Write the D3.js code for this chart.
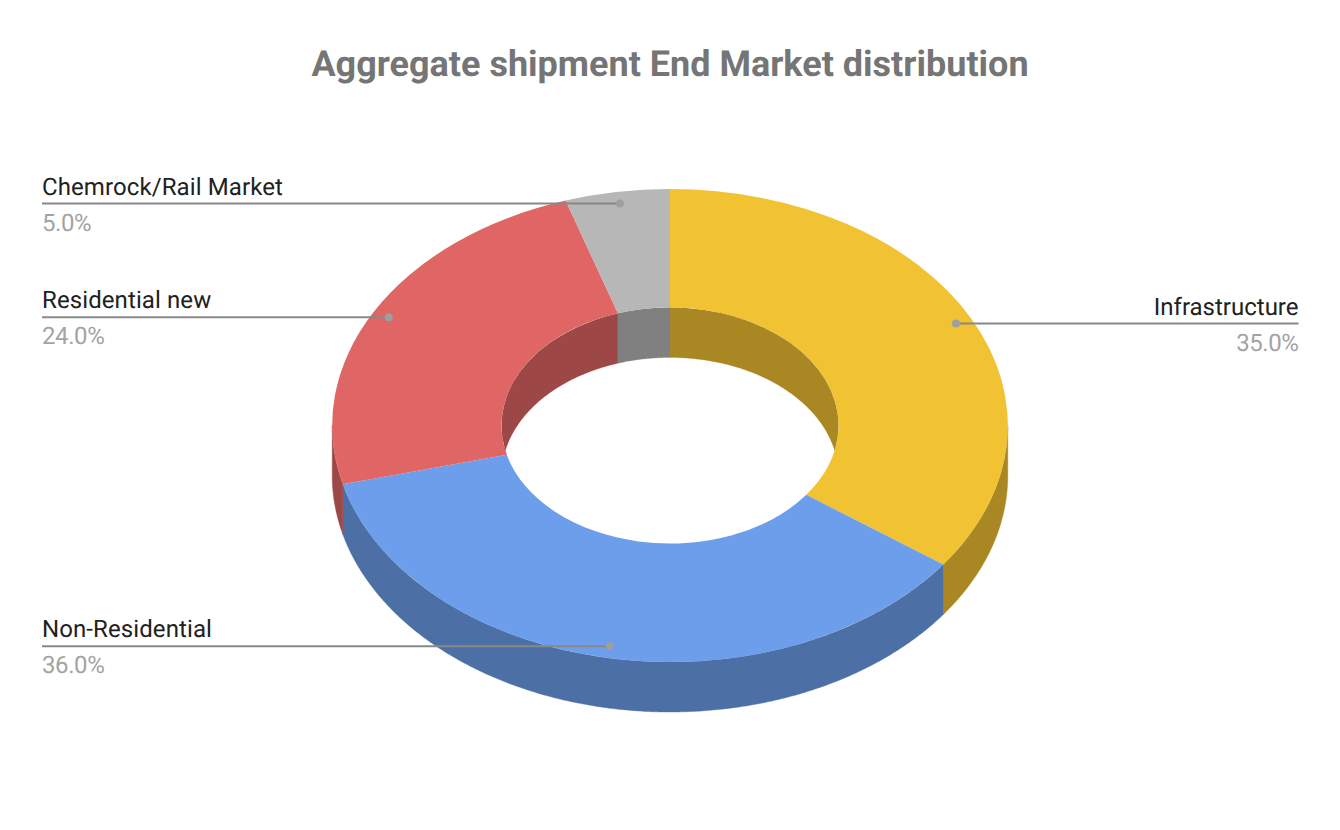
<!DOCTYPE html>
<html>
<head>
<meta charset="utf-8">
<script src="https://cdn.jsdelivr.net/npm/d3@7/dist/d3.min.js"></script>
<style>
html,body{margin:0;padding:0;background:#fff}
svg{display:block}
text{font-family:Roboto,sans-serif;text-rendering:geometricPrecision}
</style>
</head>
<body>
<svg id="chart" width="1340" height="830"></svg>
<script>
const chartTitle = "Aggregate shipment End Market distribution";
const categories = ["Infrastructure", "Non-Residential", "Residential new", "Chemrock/Rail Market"];
const shares = [35, 36, 24, 5];
const topColors = ["#f1c232", "#6d9eeb", "#e06666", "#b7b7b7"];
const sideColors = ["#a98723", "#4c6fa5", "#9d4747", "#808080"];

const W = 1340, H = 830;
const cx = 670, cy = 425.5, rx = 337.8, ry = 236.5, irx = 168.5, iry = 118, depth = 50;
const squash = ry / rx;

const svg = d3.select("#chart").attr("viewBox", `0 0 ${W} ${H}`);
const pie = d3.pie().value(d => d).sort(null);
const arcs = pie(shares);

const px = (r, a) => cx + r * Math.sin(a);
const py = (r, a) => cy - r * Math.cos(a);

function samples(a0, a1) {
  const n = Math.max(2, Math.ceil((a1 - a0) * 120));
  return d3.range(n + 1).map(i => a0 + (a1 - a0) * i / n);
}
const wall = (rxx, ryy) => d3.area()
  .x(a => px(rxx, a))
  .y0(a => py(ryy, a))
  .y1(a => py(ryy, a) + depth);

svg.append("defs").append("clipPath").attr("id", "hole")
  .append("ellipse").attr("cx", cx).attr("cy", cy).attr("rx", irx).attr("ry", iry);

const outerWall = svg.append("g");
arcs.forEach((d, i) => {
  const a0 = Math.max(d.startAngle, Math.PI / 2), a1 = Math.min(d.endAngle, Math.PI * 1.5);
  if (a1 > a0) {
    outerWall.append("path").attr("d", wall(rx, ry)(samples(a0, a1)))
      .attr("fill", sideColors[i]).attr("stroke", sideColors[i]).attr("stroke-width", 0.4);
  }
});

const arcGen = d3.arc().innerRadius(irx).outerRadius(rx);
svg.append("g").attr("transform", `translate(${cx},${cy}) scale(1,${squash})`)
  .selectAll("path").data(arcs).join("path")
  .attr("d", arcGen)
  .attr("fill", (d, i) => topColors[i]);

const innerWall = svg.append("g").attr("clip-path", "url(#hole)");
arcs.forEach((d, i) => {
  [[d.startAngle, Math.min(d.endAngle, Math.PI / 2)],
   [Math.max(d.startAngle, Math.PI * 1.5), d.endAngle]].forEach(([a0, a1]) => {
    if (a1 > a0) {
      innerWall.append("path").attr("d", wall(irx, iry)(samples(a0, a1)))
        .attr("fill", sideColors[i]).attr("stroke", sideColors[i]).attr("stroke-width", 0.3);
    }
  });
});

svg.append("text").attr("x", 670).attr("y", 75.5).attr("text-anchor", "middle")
  .attr("font-size", 36).attr("font-weight", 700).attr("fill", "#757575").text(chartTitle);

const anchorFrac = 0.95;
const g = svg.append("g");
arcs.forEach((d, i) => {
  const mid = (d.startAngle + d.endAngle) / 2;
  const dx = px(rx * anchorFrac, mid), dy = py(ry * anchorFrac, mid);
  const right = mid < Math.PI;
  const tx = right ? 1298.5 : 42;
  const anchor = right ? "end" : "start";
  g.append("line").attr("x1", dx).attr("x2", tx).attr("y1", dy).attr("y2", dy)
    .attr("stroke", "#888888").attr("stroke-width", 2);
  g.append("circle").attr("cx", dx).attr("cy", dy).attr("r", 4).attr("fill", "#9e9e9e");
  g.append("text").attr("x", tx).attr("y", dy - 8.9).attr("text-anchor", anchor)
    .attr("font-size", 24).attr("letter-spacing", right ? 0 : 0.1).attr("fill", "#212121").text(categories[i]);
  g.append("text").attr("x", tx).attr("y", dy + 27.1).attr("text-anchor", anchor)
    .attr("font-size", 24).attr("letter-spacing", -0.4).attr("fill", "#a3a3a3").text(d3.format(".1f")(shares[i]) + "%");
});
</script>
</body>
</html>
